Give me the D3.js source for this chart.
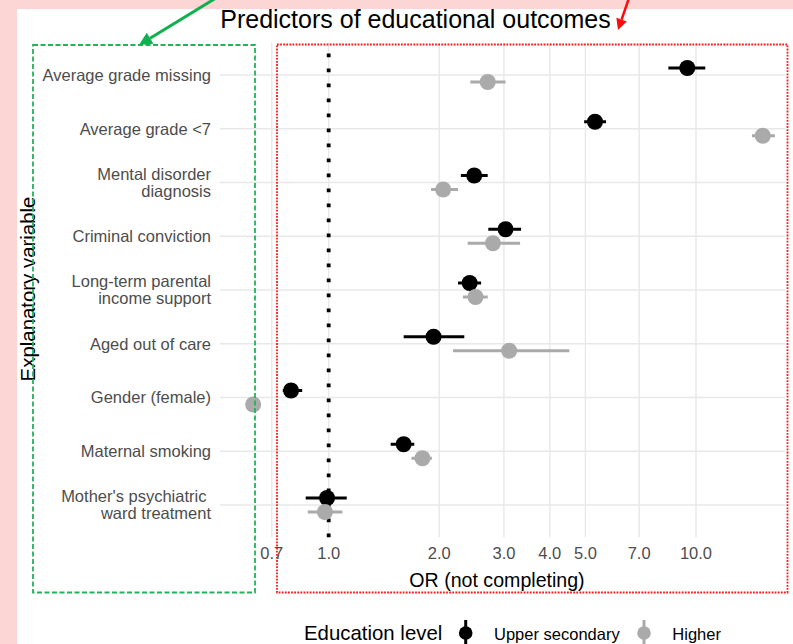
<!DOCTYPE html>
<html>
<head>
<meta charset="utf-8">
<script src="https://cdn.jsdelivr.net/npm/d3@7"></script>
<style>
  body { margin: 0; background: #fcd6d4; }
  svg { display: block; font-family: "Liberation Sans", Arial, sans-serif; }
</style>
</head>
<body>
<div id="chart"></div>
<script>
// data (odds ratios, lower / upper CI)
var categories = [
    "Average grade missing",
    "Average grade <7",
    "Mental disorder\ndiagnosis",
    "Criminal conviction",
    "Long-term parental\nincome support",
    "Aged out of care",
    "Gender (female)",
    "Maternal smoking",
    "Mother's psychiatric \nward treatment"
];
var groups = ["Upper secondary", "Higher"];
var upperOR = [9.47, 5.31, 2.49, 3.03, 2.42, 1.93, 0.79, 1.60, 0.99];
var upperLo = [8.41, 4.96, 2.29, 2.72, 2.25, 1.60, 0.75, 1.475, 0.866];
var upperHi = [10.6, 5.69, 2.71, 3.34, 2.60, 2.34, 0.847, 1.71, 1.12];
var higherOR = [2.71, 15.2, 2.05, 2.80, 2.51, 3.10, 0.623, 1.80, 0.977];
var higherLo = [2.43, 14.2, 1.90, 2.39, 2.32, 2.18, 0.60, 1.68, 0.877];
var higherHi = [3.03, 16.4, 2.25, 3.32, 2.71, 4.52, 0.645, 1.91, 1.09];
var xTicks = [0.7, 1, 2, 3, 4, 5, 7, 10];

var width = 793, height = 644;
var panel = {left: 220, right: 785, top: 42.75, bottom: 537.25};
var colors = {"Upper secondary": "#000000", "Higher": "#aaaaaa"};
var textSize = 16.5, titleSize = 20.4;

var rows = [];
categories.forEach(function(c, i) {
    rows.push({cat: c, group: "Upper secondary", or: upperOR[i], lo: upperLo[i], hi: upperHi[i]});
});
categories.forEach(function(c, i) {
    rows.push({cat: c, group: "Higher", or: higherOR[i], lo: higherLo[i], hi: higherHi[i]});
});

var svg = d3.select("#chart").append("svg")
    .attr("width", width)
    .attr("height", height);

// white plot background
svg.append("rect")
    .attr("x", 17).attr("y", 9)
    .attr("width", width - 17).attr("height", height - 9)
    .attr("fill", "#ffffff");

var x = d3.scaleLog()
    .domain([0.506, 17.47])
    .range([panel.left, panel.right]);

var y = d3.scalePoint()
    .domain(categories)
    .range([panel.top, panel.bottom])
    .padding(0.6);

var dodge = d3.scalePoint()
    .domain(groups)
    .range([-7, 7]);

// grid
svg.append("g").selectAll("line")
    .data(xTicks).join("line")
    .attr("x1", d => x(d)).attr("x2", d => x(d))
    .attr("y1", panel.top).attr("y2", panel.bottom)
    .attr("stroke", "#e8e8e8").attr("stroke-width", 1.4);

svg.append("g").selectAll("line")
    .data(categories).join("line")
    .attr("x1", panel.left).attr("x2", panel.right)
    .attr("y1", d => y(d)).attr("y2", d => y(d))
    .attr("stroke", "#e8e8e8").attr("stroke-width", 1.4);

// reference line at OR = 1 (drawn bottom-up so the dots start at the bottom)
svg.append("line")
    .attr("x1", x(1)).attr("x2", x(1))
    .attr("y1", panel.bottom).attr("y2", panel.top)
    .attr("stroke", "#000").attr("stroke-width", 3.8)
    .attr("stroke-dasharray", "3.75,11.25");

// point ranges
var marks = svg.append("g");
groups.forEach(function(g) {
    var sub = rows.filter(d => d.group == g);
    marks.append("g").selectAll("line")
        .data(sub).join("line")
        .attr("x1", d => x(d.lo)).attr("x2", d => x(d.hi))
        .attr("y1", d => y(d.cat) + dodge(g)).attr("y2", d => y(d.cat) + dodge(g))
        .attr("stroke", colors[g]).attr("stroke-width", 3);
    marks.append("g").selectAll("circle")
        .data(sub).join("circle")
        .attr("cx", d => x(d.or))
        .attr("cy", d => y(d.cat) + dodge(g))
        .attr("r", 8)
        .attr("fill", colors[g]);
});

// y axis labels
var yLab = svg.append("g");
categories.forEach(function(c) {
    var lines = c.split("\n");
    var lh = 17.3;
    var t = yLab.append("text")
        .attr("text-anchor", "end")
        .attr("font-size", textSize)
        .attr("fill", "#4d4d4d")
        .style("white-space", "pre");
    lines.forEach(function(l, j) {
        t.append("tspan")
            .attr("x", 211)
            .attr("y", y(c) + 5.8 - (lines.length - 1) * lh / 2 + j * lh)
            .text(l);
    });
});

// x axis labels
svg.append("g").selectAll("text")
    .data(xTicks).join("text")
    .attr("x", d => x(d))
    .attr("y", 559)
    .attr("text-anchor", "middle")
    .attr("font-size", textSize)
    .attr("fill", "#4d4d4d")
    .text(d3.format(".1f"));

// titles
svg.append("text")
    .attr("x", 497).attr("y", 587)
    .attr("text-anchor", "middle")
    .attr("font-size", 19.6)
    .text("OR (not completing)");

svg.append("text")
    .attr("transform", "translate(35," + ((panel.top + panel.bottom) / 2 - 1) + ") rotate(-90)")
    .attr("text-anchor", "middle")
    .attr("font-size", titleSize)
    .text("Explanatory variable");

svg.append("text")
    .attr("x", 415.5).attr("y", 28)
    .attr("text-anchor", "middle")
    .attr("font-size", 25)
    .text("Predictors of educational outcomes");

// legend
var legend = svg.append("g");
legend.append("text")
    .attr("x", 304).attr("y", 640)
    .attr("font-size", titleSize)
    .text("Education level");
var keyX = {"Upper secondary": 465.7, "Higher": 644};
groups.forEach(function(g) {
    legend.append("line")
        .attr("x1", keyX[g]).attr("x2", keyX[g])
        .attr("y1", 620).attr("y2", 646)
        .attr("stroke", colors[g]).attr("stroke-width", 3);
    legend.append("circle")
        .attr("cx", keyX[g]).attr("cy", 633).attr("r", 6.8)
        .attr("fill", colors[g]);
    legend.append("text")
        .attr("x", keyX[g] + 28.3).attr("y", 639.5)
        .attr("font-size", textSize)
        .text(g);
});

// annotation boxes and arrows
svg.append("rect")
    .attr("x", 33).attr("y", 45)
    .attr("width", 222).attr("height", 547.5)
    .attr("fill", "none")
    .attr("stroke", "#22b35a").attr("stroke-width", 1.8)
    .attr("stroke-dasharray", "5,2.5");

svg.append("rect")
    .attr("x", 277).attr("y", 44.5)
    .attr("width", 510.5).attr("height", 548)
    .attr("fill", "none")
    .attr("stroke", "#ff1a1a").attr("stroke-width", 1.8)
    .attr("stroke-dasharray", "1.8,1.3");

function arrow(x1, y1, x2, y2, color, w, head) {
    var a = Math.atan2(y2 - y1, x2 - x1);
    var bx = x2 - head * Math.cos(a), by = y2 - head * Math.sin(a);
    svg.append("line")
        .attr("x1", x1).attr("y1", y1).attr("x2", bx).attr("y2", by)
        .attr("stroke", color).attr("stroke-width", w);
    var s = head * 0.5;
    svg.append("path")
        .attr("d", "M" + x2 + "," + y2 +
            "L" + (bx + s * Math.sin(a)) + "," + (by - s * Math.cos(a)) +
            "L" + (bx - s * Math.sin(a)) + "," + (by + s * Math.cos(a)) + "Z")
        .attr("fill", color);
}
arrow(216, -2, 139, 45, "#11b04f", 3, 13);
arrow(629, -2, 618, 30, "#ff0a0a", 2.5, 11);
</script>
</body>
</html>
